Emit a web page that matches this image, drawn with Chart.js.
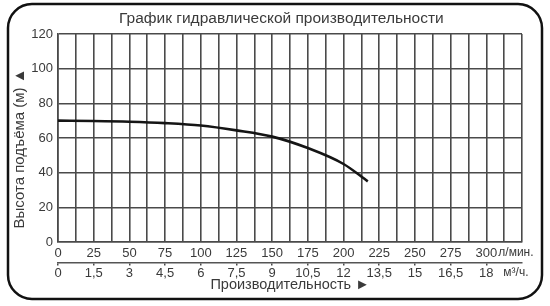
<!DOCTYPE html>
<html>
<head>
<meta charset="utf-8">
<script src="https://cdn.jsdelivr.net/npm/chart.js@4.4.0/dist/chart.umd.min.js"></script>
<style>
  html, body { margin: 0; padding: 0; background: #fff; }
  #wrap { width: 550px; height: 306px; }
</style>
</head>
<body>
<div id="wrap"><canvas id="myChart"></canvas></div>
<script>
// flow (l/min) and head (m)
const flowLpm = [0, 25, 50, 75, 100, 125, 150, 175, 200, 217];
const headM = [70, 69.8, 69.4, 68.6, 67.2, 64.4, 60.8, 54.2, 45, 35];

const titleText = "График гидравлической производительности";
const yTitle = "Высота подъёма (м) ▲";
const xTitle = "Производительность ►";
const unitLpm = "л/мин.";
const unitM3h = "м³/ч.";

const fontFam = "'Liberation Sans', Arial, sans-serif";
const gridCol = "#4a4a4a";
const textCol = "#3a3a3a";

const frame = {
  id: "frame",
  afterDraw(chart) {
    const c = chart.ctx;
    c.save();
    c.strokeStyle = "#111";
    c.lineWidth = 2.5;
    c.beginPath();
    c.roundRect(8, 4, 534, 295, 24);
    c.stroke();
    // unit labels next to the last labelled tick of each row
    const xs = chart.scales.x, x2 = chart.scales.x2;
    c.fillStyle = textCol;
    c.font = "12px " + fontFam;
    c.textAlign = "left";
    c.textBaseline = "middle";
    c.fillText(unitLpm, xs.getPixelForValue(300) + 12, 253);
    c.fillText(unitM3h, x2.getPixelForValue(18) + 17, 273);
    c.restore();
  }
};

const pts = flowLpm.map((f, i) => ({ x: f, y: headM[i] }));

new Chart(document.getElementById("myChart"), {
  type: "line",
  data: {
    datasets: [{
      data: pts,
      borderColor: "#151515",
      borderWidth: 2.6,
      pointRadius: 0,
      cubicInterpolationMode: "monotone",
      fill: false
    }]
  },
  options: {
    responsive: true,
    maintainAspectRatio: false,
    animation: false,
    layout: { padding: { left: 0, right: 28, top: 0, bottom: 0 } },
    plugins: {
      legend: { display: false },
      tooltip: { enabled: false },
      title: {
        display: true,
        fullSize: false,
        text: titleText + "\u00a0\u00a0\u00a0\u00a0",
        color: textCol,
        font: { family: fontFam, size: 15.5, weight: "normal" },
        padding: { top: 9, bottom: 6.4 }
      }
    },
    scales: {
      x: {
        type: "linear",
        position: "bottom",
        weight: 1,
        min: 0, max: 325,
        afterFit: s => { s.height = 20.5; },
        grid: { color: gridCol, lineWidth: 1.6, drawTicks: false },
        border: { color: gridCol, width: 1.6 },
        ticks: {
          stepSize: 12.5,
          autoSkip: false,
          maxRotation: 0,
          padding: 4,
          color: textCol,
          font: { family: fontFam, size: 13 },
          callback: v => (v % 25 === 0 && v <= 300) ? String(v) : ""
        }
      },
      x2: {
        type: "linear",
        position: "bottom",
        weight: 2,
        min: 0, max: 19.5,
        afterFit: s => { s.height = 43.5; },
        grid: {
          drawOnChartArea: false,
          tickLength: 3,
          lineWidth: 1.5,
          color: ctx => (ctx.index % 2 === 0 && ctx.index < 26) ? gridCol : "rgba(0,0,0,0)"
        },
        border: { color: "#555", width: 1.4 },
        ticks: {
          stepSize: 0.75,
          autoSkip: false,
          maxRotation: 0,
          padding: 0,
          color: textCol,
          font: { family: fontFam, size: 13 },
          callback: (v, i) => (i % 2 === 0 && v <= 18) ? String(v).replace(".", ",") : ""
        },
        title: {
          display: true,
          text: xTitle,
          color: textCol,
          font: { family: fontFam, size: 14.5 },
          padding: { top: 0, bottom: 12.5 }
        }
      },
      y: {
        min: 0, max: 120,
        afterFit: s => { s.width = 58; },
        grid: { color: gridCol, lineWidth: 1.6, drawTicks: false },
        border: { color: gridCol, width: 1.6 },
        ticks: {
          stepSize: 10,
          padding: 5,
          color: textCol,
          font: { family: fontFam, size: 13 },
          callback: v => v % 20 === 0 ? String(v) : ""
        },
        title: {
          display: true,
          text: yTitle + "\u00a0\u00a0\u00a0\u00a0\u00a0",
          color: textCol,
          font: { family: fontFam, size: 15 },
          padding: { top: 11, bottom: 0 }
        }
      }
    }
  },
  plugins: [frame]
});
</script>
</body>
</html>
